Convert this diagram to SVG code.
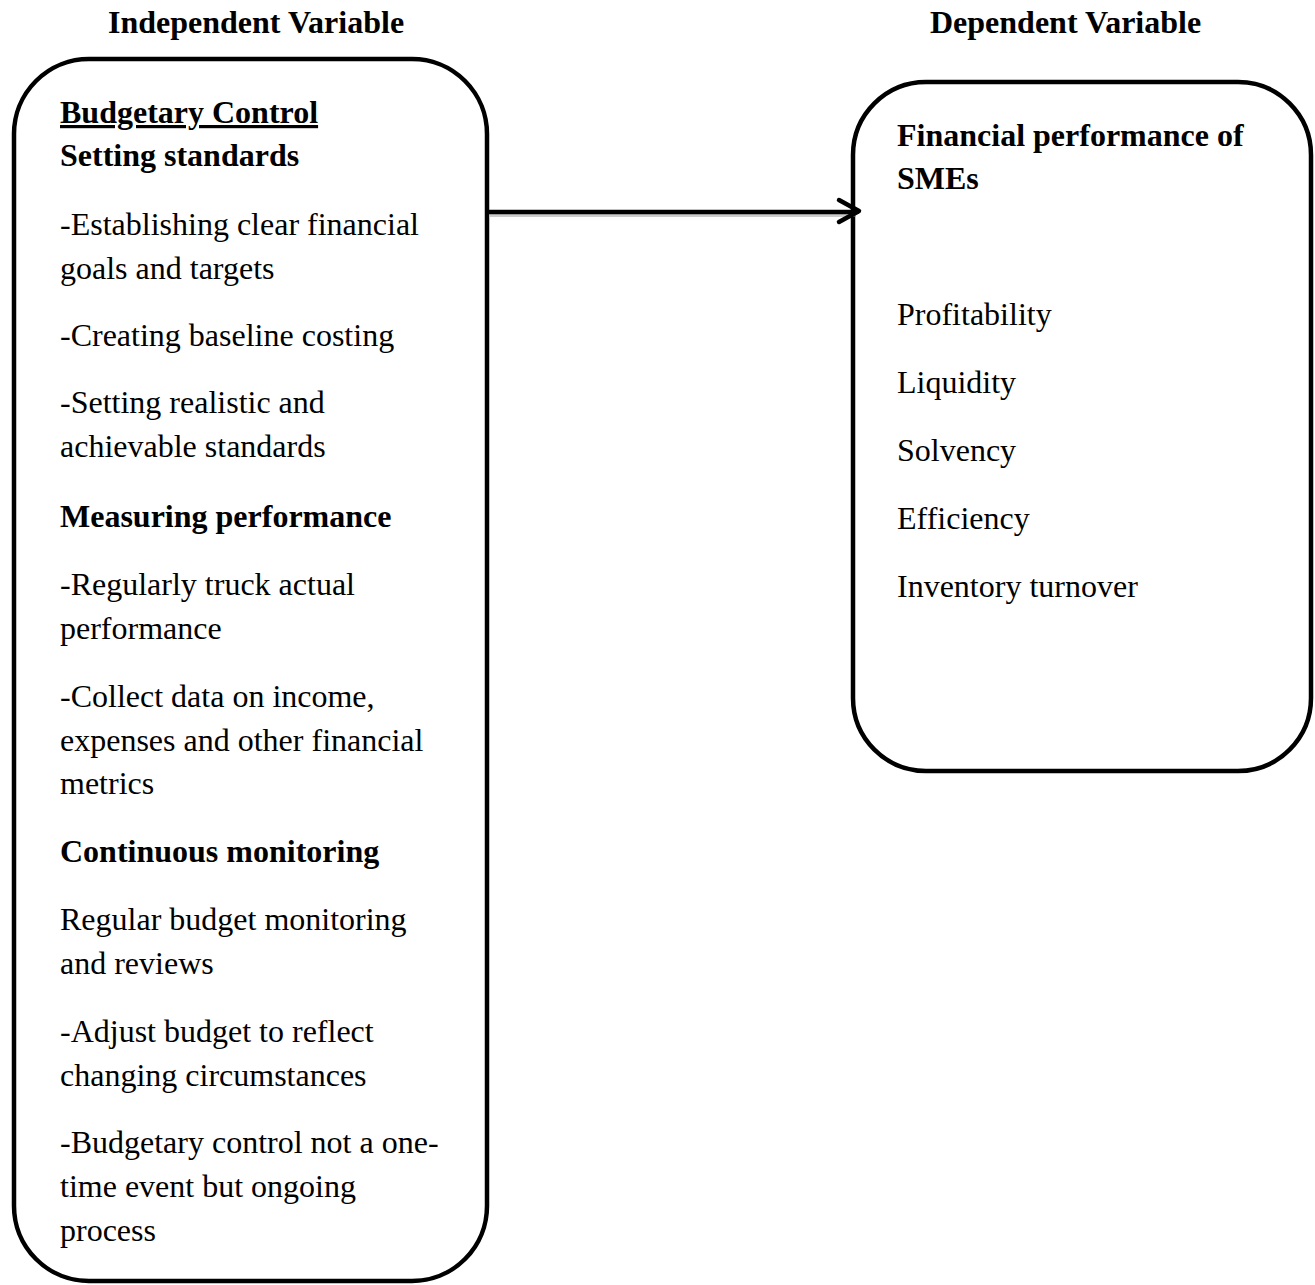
<svg xmlns="http://www.w3.org/2000/svg" width="1315" height="1285" viewBox="0 0 1315 1285">
<style>
.box{fill:#fff;stroke:#000;stroke-width:4.5}
.t{font-family:"Liberation Serif","Times New Roman",serif;font-size:32px;fill:#000}
.b{font-weight:bold}
.h{font-family:"Liberation Serif","Times New Roman",serif;font-size:32px;font-weight:bold;fill:#000}
.conn{stroke:#000;stroke-width:4.5;fill:none;stroke-linecap:round;stroke-linejoin:round}
.shadow{stroke:#999;stroke-width:3;fill:none;opacity:0.5}
</style>
<rect width="1315" height="1285" fill="#fff"/>
<text class="h" x="108" y="33">Independent Variable</text>
<text class="h" x="930" y="33">Dependent Variable</text>
<g id="independent">
<rect class="box" x="14" y="59" width="473" height="1222" rx="75" ry="75"/>
<text class="t b" x="60" y="123" text-decoration="underline">Budgetary Control</text>
<text class="t b" x="60" y="166">Setting standards</text>
<text class="t" x="60" y="235">-Establishing clear financial</text>
<text class="t" x="60" y="279">goals and targets</text>
<text class="t" x="60" y="346">-Creating baseline costing</text>
<text class="t" x="60" y="413">-Setting realistic and</text>
<text class="t" x="60" y="457">achievable standards</text>
<text class="t b" x="60" y="527">Measuring performance</text>
<text class="t" x="60" y="595">-Regularly truck actual</text>
<text class="t" x="60" y="639">performance</text>
<text class="t" x="60" y="707">-Collect data on income,</text>
<text class="t" x="60" y="751">expenses and other financial</text>
<text class="t" x="60" y="794">metrics</text>
<text class="t b" x="60" y="862">Continuous monitoring</text>
<text class="t" x="60" y="930">Regular budget monitoring</text>
<text class="t" x="60" y="974">and reviews</text>
<text class="t" x="60" y="1042">-Adjust budget to reflect</text>
<text class="t" x="60" y="1086">changing circumstances</text>
<text class="t" x="60" y="1153">-Budgetary control not a one-</text>
<text class="t" x="60" y="1197">time event but ongoing</text>
<text class="t" x="60" y="1241">process</text>
</g>
<g id="dependent">
<rect class="box" x="853" y="82" width="458" height="689" rx="73" ry="73"/>
<text class="t b" x="897" y="146">Financial performance of</text>
<text class="t b" x="897" y="189">SMEs</text>
<text class="t" x="897" y="325">Profitability</text>
<text class="t" x="897" y="393">Liquidity</text>
<text class="t" x="897" y="461">Solvency</text>
<text class="t" x="897" y="529">Efficiency</text>
<text class="t" x="897" y="597">Inventory turnover</text>
</g>
<g id="connectors">
<line class="shadow" x1="490" y1="215.5" x2="856" y2="215.5"/>
<line class="conn" x1="489" y1="212" x2="857" y2="212"/>
<polyline class="conn" points="839,200 859,211 839,222"/>
</g>
</svg>
